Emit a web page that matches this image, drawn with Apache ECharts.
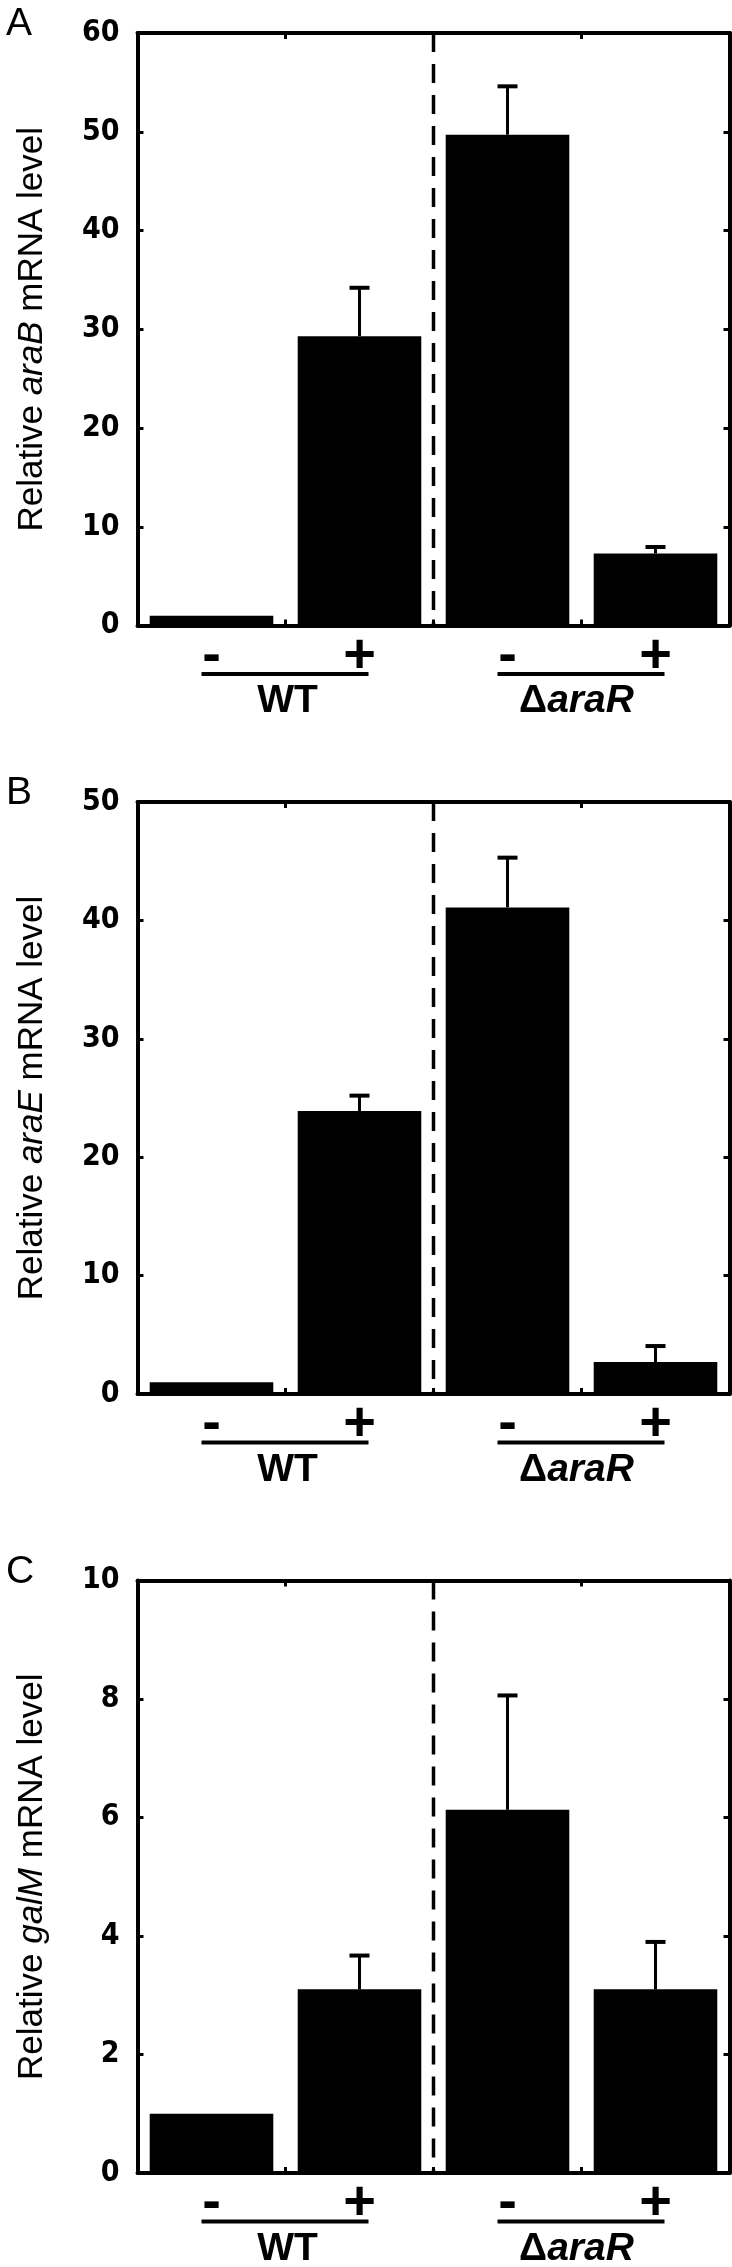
<!DOCTYPE html>
<html><head><meta charset="utf-8">
<script src="https://cdn.jsdelivr.net/npm/echarts@6/dist/echarts.min.js"></script>
<style>html,body{margin:0;padding:0;background:#fff}#c{width:732px;height:2267px}</style>
</head><body><div id="c"></div>
<script>
// ---- data ----
const categories = ['WT -', 'WT +', 'ΔaraR -', 'ΔaraR +'];
const conditionLabels = ['-', '+', '-', '+'];
const groupNames = ['WT', 'ΔaraR'];
const panelLetters = ['A', 'B', 'C'];
const geneNames = ['araB', 'araE', 'galM'];
const araBValues = [1.0, 29.3, 49.7, 7.3];
const araBErrorTops = [null, 34.2, 54.6, 7.95];
const araEValues = [1.0, 23.9, 41.1, 2.7];
const araEErrorTops = [null, 25.2, 45.3, 4.05];
const galMValues = [1.0, 3.1, 6.13, 3.1];
const galMErrorTops = [null, 3.67, 8.06, 3.9];
const yMaxes = [60, 50, 10];
const yIntervals = [10, 10, 2];

const panelValues = [araBValues, araEValues, galMValues];
const panelErrors = [araBErrorTops, araEErrorTops, galMErrorTops];

// ---- layout ----
const gridTops = [33, 802, 1580.5];
const gridHeights = [592.5, 592, 592.5];
const GL = 137.5, GR = 2.5;
const FONT = "'Liberation Sans', Arial, Helvetica, sans-serif";
const NARROW = "'Liberation Sans Narrow', 'DejaVu Sans Condensed', 'Arial Narrow', sans-serif";
const LW = 4;

const chart = echarts.init(document.getElementById('c'), null, {renderer: 'canvas'});

const grids = [], xAxes = [], yAxes = [], series = [], titles = [];

for (let p = 0; p < 3; p++) {
  grids.push({left: GL, right: GR, top: gridTops[p], height: gridHeights[p], containLabel: false});
  titles.push({
    text: panelLetters[p], left: 1, top: gridTops[p] - 33,
    textStyle: {fontFamily: FONT, fontSize: 39, fontWeight: 'normal', color: '#000'}
  });
  const axisLine = {show: true, onZero: false, lineStyle: {color: '#000', width: LW}};
  // bottom x
  xAxes.push({
    type: 'category', gridIndex: p, position: 'bottom', data: categories,
    axisLine: axisLine,
    axisTick: {show: true, inside: true, length: 6, lineStyle: {color: '#000', width: 3}},
    axisLabel: {
      show: true, margin: 31, verticalAlign: 'middle', lineHeight: 56,
      fontFamily: FONT, fontSize: 56, fontWeight: 'bold', color: '#000',
      formatter: (v, i) => conditionLabels[i]
    },
    splitLine: {show: false}
  });
  // top x
  xAxes.push({
    type: 'category', gridIndex: p, position: 'top', data: categories,
    axisLine: axisLine,
    axisTick: {show: true, inside: true, length: 6, lineStyle: {color: '#000', width: 3}},
    axisLabel: {show: false}, splitLine: {show: false}
  });
  const g = geneNames[p];
  yAxes.push({
    type: 'value', gridIndex: p, position: 'left', min: 0, max: yMaxes[p], interval: yIntervals[p],
    axisLine: axisLine,
    axisTick: {show: true, inside: true, length: 6, lineStyle: {color: '#000', width: 3}},
    axisLabel: {
      show: true, margin: 18, verticalAlign: 'middle', padding: [0, 0, 12, 0],
      fontFamily: NARROW, fontSize: 30, fontWeight: 'bold', color: '#000'
    },
    splitLine: {show: false},
    name: '{n|Relative }{i|' + g + '}{n| mRNA level}',
    nameLocation: 'middle', nameGap: 88,
    nameTextStyle: {
      color: '#000', fontFamily: FONT, fontSize: 35,
      rich: {
        n: {fontFamily: FONT, fontSize: 35, color: '#000'},
        i: {fontFamily: FONT, fontSize: 35, fontStyle: 'italic', color: '#000'}
      }
    }
  });
  yAxes.push({
    type: 'value', gridIndex: p, position: 'right', min: 0, max: yMaxes[p], interval: yIntervals[p],
    axisLine: axisLine,
    axisTick: {show: true, inside: true, length: 6, lineStyle: {color: '#000', width: 3}},
    axisLabel: {show: false}, splitLine: {show: false}
  });

  // bars
  series.push({
    type: 'bar', xAxisIndex: 2 * p, yAxisIndex: 2 * p,
    data: panelValues[p], barWidth: '83.5%',
    itemStyle: {color: '#000'}, silent: true, z: 2
  });
  // error bars (upper only)
  const errData = [];
  panelErrors[p].forEach((e, i) => { if (e != null) errData.push([i, panelValues[p][i], e]); });
  series.push({
    type: 'custom', xAxisIndex: 2 * p, yAxisIndex: 2 * p, data: errData, z: 3, clip: false,
    renderItem: function (params, api) {
      const base = api.coord([api.value(0), api.value(1)]);
      const top = api.coord([api.value(0), api.value(2)]);
      return {
        type: 'group', children: [
          {type: 'line', shape: {x1: base[0], y1: base[1], x2: top[0], y2: top[1]},
           style: {stroke: '#000', lineWidth: 3}},
          {type: 'line', shape: {x1: top[0] - 10, y1: top[1], x2: top[0] + 10, y2: top[1]},
           style: {stroke: '#000', lineWidth: 4}}
        ]
      };
    }
  });
  // dashed separator between the two strains
  series.push({
    type: 'custom', xAxisIndex: 2 * p, yAxisIndex: 2 * p, data: [[1, 2]], z: 4, clip: false,
    renderItem: function (params, api) {
      const a = api.coord([api.value(0), 0]);
      const b = api.coord([api.value(1), 0]);
      const x = (a[0] + b[0]) / 2;
      const cs = params.coordSys;
      return {type: 'line', shape: {x1: x, y1: cs.y, x2: x, y2: cs.y + cs.height},
        style: {stroke: '#000', lineWidth: 3.5, lineDash: [19, 12]}};
    }
  });
  // group underline + strain label
  series.push({
    type: 'custom', xAxisIndex: 2 * p, yAxisIndex: 2 * p, data: [[0, 1, 0], [2, 3, 1]], z: 4, clip: false,
    renderItem: function (params, api) {
      const a = api.coord([api.value(0), 0]);
      const b = api.coord([api.value(1), 0]);
      const gi = api.value(2);
      const txt = gi === 0 ? '{b|' + groupNames[0] + '}' : '{b|Δ}{i|' + groupNames[1].slice(1) + '}';
      return {
        type: 'group', children: [
          {type: 'line', shape: {x1: a[0] - 10, y1: a[1] + 48.5, x2: b[0] + 9, y2: a[1] + 48.5},
           style: {stroke: '#000', lineWidth: 4}},
          {type: 'text', x: (a[0] + b[0]) / 2 + (gi === 0 ? 2 : -5), y: a[1] + 76,
           style: {
             text: txt, align: 'center', verticalAlign: 'middle',
             rich: {
               b: {fontFamily: FONT, fontSize: 39, fontWeight: 'bold', fill: '#000', color: '#000'},
               i: {fontFamily: FONT, fontSize: 39, fontWeight: 'bold', fontStyle: 'italic', fill: '#000', color: '#000'}
             }
           }}
        ]
      };
    }
  });
}

chart.setOption({
  backgroundColor: '#fff',
  animation: false,
  title: titles,
  grid: grids,
  xAxis: xAxes,
  yAxis: yAxes,
  series: series
});
</script>
</body></html>
